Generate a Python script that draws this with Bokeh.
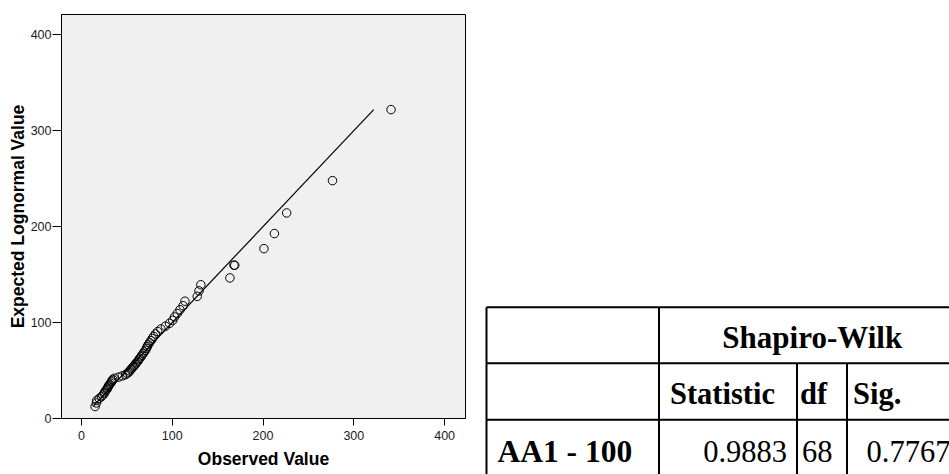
from bokeh.plotting import figure
from bokeh.layouts import row, column
from bokeh.models import Range1d, FixedTicker, ColumnDataSource
from bokeh.core.properties import value
from bokeh.embed import file_html
from bokeh.resources import INLINE

# Q-Q plot data: observed values and expected lognormal quantiles (sorted)
observed = [
    15.0, 16.5, 16.8, 19.5, 22.0, 23.5, 25.0, 25.5, 26.5, 28.0,
    28.5, 29.5, 30.0, 31.0, 32.0, 33.0, 33.5, 34.5, 36.0, 41.0,
    45.0, 48.5, 50.5, 52.0, 53.0, 54.5, 55.5, 57.0, 58.0, 59.5,
    60.5, 62.0, 63.0, 64.0, 65.5, 66.5, 68.0, 69.0, 70.5, 71.5,
    72.5, 73.5, 75.0, 76.5, 78.0, 79.5, 81.5, 84.0, 87.5, 92.5,
    97.0, 100.5, 102.5, 105.5, 108.5, 112.0, 114.0, 127.5, 129.5, 131.5,
    163.5, 168.0, 168.8, 201.0, 212.5, 226.0, 276.5, 341.0,
]
expected = [
    12.5, 16.2, 18.8, 20.9, 22.7, 24.4, 26.0, 27.5, 28.9, 30.3,
    31.6, 32.9, 34.3, 35.5, 36.8, 38.1, 39.3, 40.6, 41.9, 43.1,
    44.4, 45.7, 47.0, 48.3, 49.6, 51.0, 52.4, 53.7, 55.1, 56.6,
    58.0, 59.5, 61.1, 62.6, 64.2, 65.9, 67.6, 69.3, 71.1, 73.0,
    74.9, 76.9, 79.0, 81.1, 83.3, 85.6, 88.1, 90.6, 93.3, 96.2,
    99.2, 102.3, 105.8, 109.4, 113.3, 117.5, 122.2, 127.3, 133.0, 139.4,
    146.5, 159.7, 159.7, 177.0, 192.7, 214.2, 247.9, 321.9,
]
axis_ticks = [0, 100, 200, 300, 400]
x_title = "Observed Value"
y_title = "Expected Lognormal Value"

# Normality test summary table
test_name = "Shapiro-Wilk"
test_columns = ["Statistic", "df", "Sig."]
row_label = "AA1 - 100"
stat_value = "0.9883"
df_value = "68"
sig_value = "0.7767"

# ---------------- Q-Q plot ----------------
p = figure(
    width=475, height=474,
    x_range=Range1d(-22, 423), y_range=Range1d(0, 421),
    toolbar_location=None, output_backend="svg",
    min_border_left=61, min_border_right=10,
    min_border_top=14, min_border_bottom=56,
)
p.background_fill_color = "#f0f0f0"
p.border_fill_color = "white"
p.outline_line_color = "black"
p.outline_line_width = 1
p.grid.visible = False

for ax in (p.xaxis[0], p.yaxis[0]):
    ax.ticker = FixedTicker(ticks=axis_ticks)
    ax.minor_tick_line_color = None
    ax.major_tick_in = 0
    ax.axis_line_color = "black"
    ax.major_tick_line_color = "black"
    ax.major_label_text_font = "Liberation Sans"
    ax.major_label_text_font_size = "12.5px"
    ax.major_label_text_color = "#1a1a1a"
    ax.axis_label_text_font = "Liberation Sans"
    ax.axis_label_text_font_size = "17.5px"
    ax.axis_label_text_font_style = "bold"
    ax.axis_label_text_color = "black"

p.xaxis.axis_label = x_title
p.yaxis.axis_label = y_title
p.xaxis.major_tick_out = 7
p.yaxis.major_tick_out = 9
p.xaxis.major_label_standoff = 5
p.yaxis.major_label_standoff = 1
p.xaxis.axis_label_standoff = 6
p.yaxis.axis_label_standoff = 0

# reference line y = x across the range of expected values
lo, hi = min(expected), max(expected)
p.line([lo, hi], [lo, hi], line_color="black", line_width=1.2)

src = ColumnDataSource(data=dict(x=observed, y=expected))
p.scatter("x", "y", source=src, marker="circle", size=8.5,
          fill_color=None, line_color="black", line_width=1)

# ---------------- summary table ----------------
t = figure(
    width=474, height=474,
    x_range=Range1d(475, 949), y_range=Range1d(474, 0),
    toolbar_location=None, output_backend="svg",
    min_border=0, x_axis_location=None, y_axis_location=None,
)
t.grid.visible = False
t.outline_line_color = None
t.background_fill_color = "white"
t.border_fill_color = "white"

left, c1, c2, c3, right = 486, 658.5, 796.5, 846.5, 965
r0, r1, r2, bottom = 306.7, 362.7, 419.3, 480
seg_x0 = [left, left, left, left, c1, c2, c3]
seg_x1 = [right, right, right, left, c1, c2, c3]
seg_y0 = [r0, r1, r2, r0, r0, r1, r1]
seg_y1 = [r0, r1, r2, bottom, bottom, bottom, bottom]
t.segment(seg_x0, seg_y0, seg_x1, seg_y1, line_color="black", line_width=2)

font = value("Liberation Serif")
fs = "30.5px"
t.text(x=[(c1 + right) / 2], y=[336.7], text=[test_name], text_font=font,
       text_font_size="31px", text_font_style="bold", text_align="center",
       text_baseline="alphabetic", text_color="black")
t.text(x=[c1 + 11, c2 + 3, c3 + 6], y=[393.3] * 3, text=test_columns,
       text_font=font, text_font_size=fs, text_font_style="bold",
       text_align="left", text_baseline="alphabetic", text_color="black")
t.text(x=[left + 11], y=[450.7], text=[row_label], text_font=font,
       text_font_size="31.5px", text_font_style="bold", text_align="left",
       text_baseline="alphabetic", text_color="black")
t.text(x=[c2 - 10], y=[450.7], text=[stat_value], text_font=font,
       text_font_size=fs, text_align="right", text_baseline="alphabetic",
       text_color="black")
t.text(x=[c2 + 5, c3 + 19.5], y=[450.7, 450.7], text=[df_value, sig_value],
       text_font=font, text_font_size=fs, text_align="left",
       text_baseline="alphabetic", text_color="black")

# each figure in its own column so the table keeps its full-height frame
layout = row(column(p), column(t), spacing=0)
open("out.html", "w").write(file_html(layout, INLINE))
